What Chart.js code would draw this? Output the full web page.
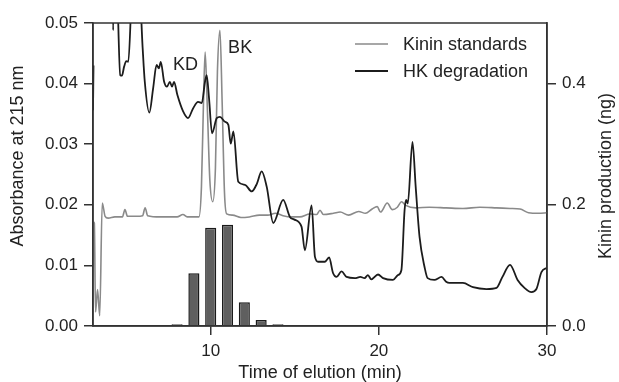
<!DOCTYPE html>
<html>
<head>
<meta charset="utf-8">
<script src="https://cdn.jsdelivr.net/npm/chart.js@4.4.0/dist/chart.umd.min.js"></script>
<style>
    html, body { margin: 0; padding: 0; background: #fff; }
    #wrap { width: 619px; height: 382px; }
</style>
</head>
<body>
<div id="wrap"><canvas id="chart" width="619" height="382"></canvas></div>
<script>
(function () {
    'use strict';

    // kinin standards trace (min, absorbance)
    var stdTime = [3.0, 3.08, 3.15, 3.27, 3.4, 3.55, 3.72, 3.9, 4.3, 4.75, 4.9, 5.05, 5.6, 5.95, 6.1, 6.25, 7.0, 8.0, 8.35, 8.6,
        9.3, 9.45, 9.58, 9.67, 9.8, 9.95, 10.12, 10.28, 10.4, 10.55, 10.68, 10.82, 10.95, 11.3, 11.8, 12.3, 12.9, 13.4, 13.85, 14.3,
        14.8, 15.3, 15.9, 16.3, 16.5, 16.7, 17.3, 17.7, 18.2, 18.8, 19.2, 19.6, 19.9, 20.1, 20.5, 20.8, 21.1, 21.35, 21.6, 22.2,
        23.0, 24.0, 25.0, 26.0, 27.0, 27.8, 28.4, 28.9, 29.5, 30.0];
    var stdAbs = [0.0172, 0.017, 0.0023, 0.006, 0.0017, 0.0203, 0.0181, 0.0178, 0.018, 0.018, 0.0192, 0.0181, 0.0181, 0.0182, 0.0195, 0.0182, 0.018, 0.018, 0.0184, 0.018,
        0.018, 0.023, 0.038, 0.0452, 0.036, 0.024, 0.0205, 0.026, 0.042, 0.0488, 0.037, 0.022, 0.0185, 0.0183, 0.0179, 0.018, 0.0183, 0.0183, 0.0186, 0.0182,
        0.018, 0.018, 0.0185, 0.0184, 0.0191, 0.0184, 0.0186, 0.0188, 0.0183, 0.0189, 0.0186, 0.0193, 0.0197, 0.0188, 0.0203, 0.0192, 0.0196, 0.0205, 0.0199, 0.0195,
        0.0196, 0.0195, 0.0194, 0.0196, 0.0195, 0.0194, 0.0193, 0.0187, 0.0186, 0.0187];

    // HK degradation trace (min, absorbance), null = gap
    var hkTime = [3.0, 3.03, 3.5, 4.1, 4.2, 4.28, 4.4, 4.62, 4.72, 4.85, 4.98, 5.1, 5.35, 5.75, 5.95, 6.08, 6.35, 6.58, 6.78, 6.92,
        7.03, 7.23, 7.4, 7.57, 7.7, 7.82, 8.02, 8.36, 8.65, 8.95, 9.25, 9.47, 9.66, 9.76, 9.9, 10.08, 10.36, 10.55, 10.85, 11.05,
        11.19, 11.35, 11.64, 12.04, 12.44, 12.75, 13.03, 13.33, 13.72, 14.31, 14.71, 14.95, 15.4, 15.6, 16.0, 16.2, 16.39, 16.78, 17.04, 17.28,
        17.48, 17.78, 18.08, 18.57, 18.9, 19.15, 19.35, 19.55, 19.95, 20.25, 20.84, 21.13, 21.34, 21.53, 21.62, 21.72, 22.0, 22.19, 22.42, 22.72,
        22.9, 23.3, 23.73, 24.0, 24.2, 25.0, 25.6, 26.4, 27.0, 27.35, 27.8, 28.25, 28.66, 29.07, 29.37, 29.67, 30.0];
    var hkAbs = [0.0356, 0.043, null, 0.065, 0.0488, 0.065, 0.06, 0.0414, 0.0413, 0.0428, 0.0437, 0.0436, 0.056, 0.056, 0.046, 0.0403, 0.0352, 0.0393, 0.0431, 0.0425,
        0.0436, 0.0403, 0.0395, 0.0403, 0.0395, 0.0403, 0.0381, 0.0354, 0.0343, 0.0359, 0.037, 0.0368, 0.0403, 0.0414, 0.0376, 0.0318, 0.0343, 0.0345, 0.0337, 0.0332,
        0.0301, 0.0321, 0.0238, 0.0233, 0.0222, 0.0235, 0.0255, 0.023, 0.017, 0.0208, 0.018, 0.0176, 0.0164, 0.0125, 0.0199, 0.0114, 0.0106, 0.0106, 0.0113, 0.0087,
        0.0081, 0.009, 0.0081, 0.0079, 0.0081, 0.0079, 0.0084, 0.0077, 0.0085, 0.0079, 0.0076, 0.0084, 0.0092, 0.0191, 0.0208, 0.0202, 0.0304, 0.023, 0.0147, 0.0097,
        0.0079, 0.0076, 0.0081, 0.0073, 0.0071, 0.0071, 0.0064, 0.0061, 0.0063, 0.0081, 0.0101, 0.0076, 0.0063, 0.0056, 0.0061, 0.0089, 0.0096];

    // kinin production per fraction (ng)
    var fractionTime = [8, 9, 10, 11, 12, 13, 14];
    var kininNg = [0.003, 0.087, 0.162, 0.167, 0.039, 0.010, 0.003];

    var timeTicks = [10, 20, 30];
    var absTicks = [0, 0.01, 0.02, 0.03, 0.04, 0.05];
    var ngTicks = [0, 0.2, 0.4];

    var peakNames = ['KD', 'BK'];
    var peakTime = [8.5, 11.75];
    var peakAbs = [0.0430, 0.0458];

    var FONT = '"Liberation Sans", Arial, sans-serif';
    var AXIS = '#333333';
    var TEXT = '#222222';

    function pairs(xs, ys) {
        return xs.map(function (x, i) { return { x: x, y: ys[i] }; });
    }

    function fixedTicks(list) {
        return function (scale) {
            scale.ticks = list.map(function (v) { return { value: v }; });
        };
    }

    function axisGrid() {
        return {
            offset: false,
            drawOnChartArea: false,
            drawTicks: true,
            tickLength: 9,
            color: AXIS,
            lineWidth: 1.5
        };
    }

    //FRAME, LEGEND, PEAK LABELS AND Y TITLES
    var extras = {
        id: 'extras',
        afterDraw: function (chart) {
            var ctx = chart.ctx;
            var a = chart.chartArea;
            var xs = chart.scales.x;
            var ys = chart.scales.y;

            ctx.save();
            ctx.strokeStyle = AXIS;
            ctx.lineWidth = 1.5;
            ctx.strokeRect(a.left, a.top, a.right - a.left, a.bottom - a.top);

            ctx.font = '18px ' + FONT;
            ctx.fillStyle = TEXT;
            ctx.textBaseline = 'middle';

            // legend
            var row = 0;
            chart.data.datasets.forEach(function (ds) {
                if (ds.type === 'bar') {
                    return;
                }
                var y = a.top + 21 + row * 27;
                ctx.strokeStyle = ds.borderColor;
                ctx.lineWidth = ds.borderWidth;
                ctx.beginPath();
                ctx.moveTo(a.right - 192, y);
                ctx.lineTo(a.right - 159, y);
                ctx.stroke();
                ctx.textAlign = 'left';
                ctx.fillText(ds.label, a.right - 144, y + 1);
                row++;
            });

            // peak labels
            ctx.textAlign = 'center';
            peakNames.forEach(function (name, i) {
                ctx.fillText(name, xs.getPixelForValue(peakTime[i]), ys.getPixelForValue(peakAbs[i]));
            });

            // y titles, both reading upward
            ctx.save();
            ctx.translate(18.5, 156);
            ctx.rotate(-Math.PI / 2);
            ctx.fillText('Absorbance at 215 nm', 0, 0);
            ctx.restore();

            ctx.save();
            ctx.translate(606, 176);
            ctx.rotate(-Math.PI / 2);
            ctx.fillText('Kinin production (ng)', 0, 0);
            ctx.restore();

            ctx.restore();
        }
    };

    new Chart(document.getElementById('chart'), {
        type: 'line',
        data: {
            datasets: [
                {
                    label: 'Kinin standards',
                    data: pairs(stdTime, stdAbs),
                    yAxisID: 'y',
                    borderColor: '#8a8a8a',
                    borderWidth: 1.6,
                    pointRadius: 0,
                    cubicInterpolationMode: 'monotone',
                    order: 2
                },
                {
                    label: 'HK degradation',
                    data: pairs(hkTime, hkAbs),
                    yAxisID: 'y',
                    borderColor: '#1c1c1c',
                    borderWidth: 1.8,
                    pointRadius: 0,
                    spanGaps: false,
                    cubicInterpolationMode: 'monotone',
                    order: 1
                },
                {
                    type: 'bar',
                    label: 'Kinin production',
                    data: pairs(fractionTime, kininNg),
                    yAxisID: 'y1',
                    backgroundColor: '#5f5f5f',
                    borderColor: '#1a1a1a',
                    borderWidth: 1.5,
                    barPercentage: 0.66,
                    categoryPercentage: 1.0,
                    order: 3
                }
            ]
        },
        options: {
            responsive: false,
            animation: false,
            devicePixelRatio: 1,
            layout: { padding: { top: 23, left: 0, right: 0, bottom: 0 } },
            plugins: {
                legend: { display: false },
                tooltip: { enabled: false }
            },
            scales: {
                x: {
                    type: 'linear',
                    min: 3,
                    max: 30,
                    offset: false,
                    afterBuildTicks: fixedTicks(timeTicks),
                    afterFit: function (scale) { scale.height = 56; },
                    grid: axisGrid(),
                    border: { color: AXIS, width: 1.5 },
                    ticks: { color: TEXT, padding: 6, maxRotation: 0, font: { family: FONT, size: 17 } },
                    title: {
                        display: true,
                        text: 'Time of elution (min)',
                        color: TEXT,
                        padding: { top: 0, bottom: 0 },
                        font: { family: FONT, size: 18, lineHeight: 1 }
                    }
                },
                y: {
                    position: 'left',
                    min: 0,
                    max: 0.05,
                    afterBuildTicks: fixedTicks(absTicks),
                    afterFit: function (scale) { scale.width = 93; },
                    grid: axisGrid(),
                    border: { color: AXIS, width: 1.5 },
                    ticks: {
                        color: TEXT,
                        padding: 6,
                        font: { family: FONT, size: 17 },
                        callback: function (v) { return v.toFixed(2); }
                    }
                },
                y1: {
                    position: 'right',
                    min: 0,
                    max: 0.5,
                    afterBuildTicks: fixedTicks(ngTicks),
                    afterFit: function (scale) { scale.width = 72; },
                    grid: axisGrid(),
                    border: { color: AXIS, width: 1.5 },
                    ticks: {
                        color: TEXT,
                        padding: 6,
                        font: { family: FONT, size: 17 },
                        callback: function (v) { return v.toFixed(1); }
                    }
                }
            }
        },
        plugins: [extras]
    });
})();
</script>
</body>
</html>
